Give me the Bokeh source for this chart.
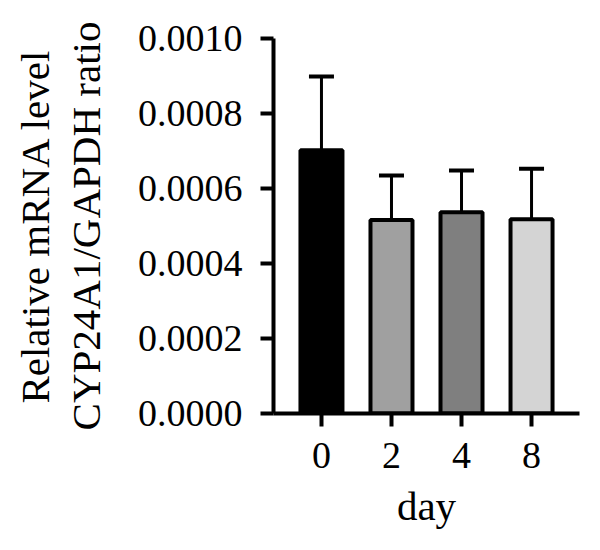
from bokeh.plotting import figure
from bokeh.models import ColumnDataSource, FactorRange, Range1d, Whisker, TeeHead, FixedTicker
from bokeh.embed import file_html
from bokeh.resources import INLINE

days = ["0", "2", "4", "8"]
means = [0.000702, 0.000516, 0.000537, 0.000518]
errors = [0.000197, 0.000119, 0.000111, 0.000135]
colors = ["#000000", "#a0a0a0", "#7f7f7f", "#d4d4d4"]
y_ticks = [0.0, 0.0002, 0.0004, 0.0006, 0.0008, 0.0010]
y_tick_labels = ["0.0000", "0.0002", "0.0004", "0.0006", "0.0008", "0.0010"]

upper = [m + e for m, e in zip(means, errors)]
src = ColumnDataSource(dict(day=days, mean=means, upper=upper, color=colors))

FONT = "Liberation Serif"

p = figure(width=600, height=550, output_backend="svg", toolbar_location=None,
           x_range=FactorRange(factors=days, range_padding=0.185, range_padding_units="absolute"),
           y_range=Range1d(0, 0.001),
           min_border_left=273, min_border_right=21, min_border_top=38, min_border_bottom=137)
p.outline_line_color = None
p.grid.visible = False
p.background_fill_color = "white"

p.vbar(x="day", top="mean", bottom=0, width=0.6, source=src,
       fill_color="color", line_color="black", line_width=4)

w = Whisker(base="day", upper="upper", lower="mean", source=src,
            line_color="black", line_width=3,
            upper_head=TeeHead(size=25, line_width=4, line_color="black"),
            lower_head=None)
p.add_layout(w)

# y axis
p.yaxis.ticker = FixedTicker(ticks=y_ticks)
p.yaxis.major_label_overrides = {t: l for t, l in zip(y_ticks, y_tick_labels)}
p.yaxis.axis_label = "Relative mRNA level\nCYP24A1/GAPDH ratio"
p.yaxis.minor_tick_line_color = None

for ax in (p.xaxis, p.yaxis):
    ax.axis_line_width = 4
    ax.axis_line_color = "black"
    ax.major_tick_line_width = 4
    ax.major_tick_line_color = "black"
    ax.major_tick_in = 0
    ax.major_tick_out = 13
    ax.major_label_text_font = FONT
    ax.major_label_text_color = "black"
    ax.axis_label_text_font = FONT
    ax.axis_label_text_font_style = "normal"
    ax.axis_label_text_color = "black"

p.yaxis.major_label_text_font_size = "38px"
p.yaxis.major_label_standoff = 18
p.yaxis.axis_label_text_font_size = "41px"
p.yaxis.axis_label_text_line_height = 1.1
p.yaxis.axis_label_standoff = 26

p.xaxis.axis_label = "day"
p.xaxis.major_label_text_font_size = "38px"
p.xaxis.major_label_standoff = 16
p.xaxis.axis_label_text_font_size = "41px"
p.xaxis.axis_label_standoff = 12

open("out.html", "w").write(file_html(p, INLINE))
